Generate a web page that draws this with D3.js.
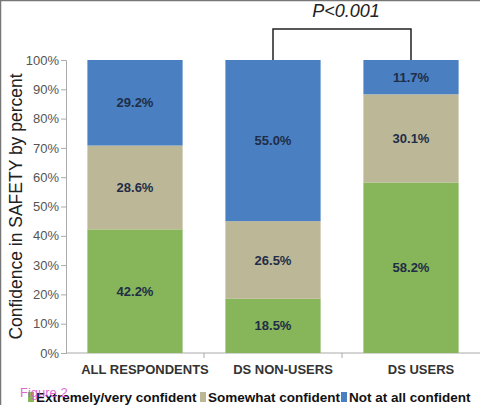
<!DOCTYPE html>
<html>
<head>
<meta charset="utf-8">
<script src="https://cdn.jsdelivr.net/npm/d3@7"></script>
<style>
  html, body { margin: 0; padding: 0; background: #fff; }
  svg { display: block; font-family: 'Liberation Sans', Arial, sans-serif; }
</style>
</head>
<body>
<div id="chart"></div>
<script>
const categories = ['ALL RESPONDENTS', 'DS NON-USERS', 'DS USERS'];
const seriesNames = ['Extremely/very confident', 'Somewhat confident', 'Not at all confident'];
const extremely = [42.2, 18.5, 58.2];
const somewhat = [28.6, 26.5, 30.1];
const notAtAll = [29.2, 55.0, 11.7];
const yTicks = [0, 10, 20, 30, 40, 50, 60, 70, 80, 90, 100];
const colors = ['#87b55a', '#bcb897', '#4a80c1'];

const width = 480, height = 405;
const margin = { top: 60, right: 0, bottom: 52, left: 66 };

const svg = d3.select('#chart').append('svg')
  .attr('width', width)
  .attr('height', height);

// frame lines at top/left like the scanned figure
svg.append('line').attr('x1', 0).attr('x2', width).attr('y1', 0.5).attr('y2', 0.5)
  .attr('stroke', '#777').attr('stroke-width', 1.5);
svg.append('line').attr('x1', 0.5).attr('x2', 0.5).attr('y1', 0).attr('y2', height)
  .attr('stroke', '#777').attr('stroke-width', 1.5);

const x = d3.scaleBand()
  .domain(categories)
  .range([margin.left, width - margin.right])
  .paddingInner(0.31)
  .paddingOuter(0.155);

const y = d3.scaleLinear()
  .domain([0, 100])
  .range([height - margin.bottom, margin.top]);

const rows = categories.map((c, i) => ({
  cat: c,
  s0: extremely[i], s1: somewhat[i], s2: notAtAll[i]
}));
const stack = d3.stack().keys(['s0', 's1', 's2'])(rows);

// y axis
const yAxis = svg.append('g')
  .attr('transform', `translate(${margin.left},0)`)
  .call(d3.axisLeft(y).tickValues(yTicks).tickSize(5).tickFormat(d => d + '%'));
yAxis.selectAll('path, line').attr('stroke', '#aaa');
yAxis.selectAll('text').attr('fill', '#555').attr('font-size', 13).attr('dx', 1);

// x axis with ticks between categories
const step = x.step();
const xAxis = svg.append('g')
  .attr('transform', `translate(0,${y(0)})`);
xAxis.append('line')
  .attr('x1', margin.left).attr('x2', width)
  .attr('stroke', '#aaa');
xAxis.selectAll('line.tick')
  .data(categories.slice(1))
  .join('line')
  .attr('class', 'tick')
  .attr('x1', d => x(d) - x.paddingInner() * step / 2)
  .attr('x2', d => x(d) - x.paddingInner() * step / 2)
  .attr('y1', 0).attr('y2', 5)
  .attr('stroke', '#aaa');
xAxis.selectAll('text')
  .data(categories)
  .join('text')
  .attr('x', d => x(d) + x.bandwidth() / 2 + 10)
  .attr('y', 21)
  .attr('text-anchor', 'middle')
  .attr('font-size', 13)
  .attr('font-weight', 'bold')
  .attr('fill', '#333')
  .text(d => d);

// bars
const layers = svg.append('g').selectAll('g')
  .data(stack)
  .join('g')
  .attr('fill', (d, i) => colors[i]);

layers.selectAll('rect')
  .data(d => d)
  .join('rect')
  .attr('x', d => x(d.data.cat))
  .attr('width', x.bandwidth())
  .attr('y', d => y(d[1]))
  .attr('height', d => y(d[0]) - y(d[1]));

layers.selectAll('text')
  .data(d => d)
  .join('text')
  .attr('x', d => x(d.data.cat) + x.bandwidth() / 2)
  .attr('y', d => y((d[0] + d[1]) / 2))
  .attr('dy', '0.35em')
  .attr('text-anchor', 'middle')
  .attr('font-size', 13)
  .attr('font-weight', 'bold')
  .attr('fill', '#1f2d48')
  .text(d => (d[1] - d[0]).toFixed(1) + '%');

// y title
svg.append('text')
  .attr('transform', `translate(22,${(y(0) + y(100)) / 2}) rotate(-90)`)
  .attr('text-anchor', 'middle')
  .attr('font-size', 17.5)
  .attr('fill', '#222')
  .text('Confidence in SAFETY by percent');

// significance bracket between non-users and users
const bx1 = x(categories[1]) + x.bandwidth() / 2;
const bx2 = x(categories[2]) + x.bandwidth() / 2;
const by = 29;
svg.append('path')
  .attr('d', `M${bx1},${y(100)}V${by}H${bx2}V${y(100)}`)
  .attr('fill', 'none')
  .attr('stroke', '#222')
  .attr('stroke-width', 1.5);
svg.append('text')
  .attr('x', (bx1 + bx2) / 2 + 4)
  .attr('y', 17)
  .attr('text-anchor', 'middle')
  .attr('font-size', 18)
  .attr('font-style', 'italic')
  .attr('fill', '#222')
  .text('P<0.001');

// legend
const legendX = [28, 200, 341];
const legend = svg.append('g').selectAll('g')
  .data(seriesNames)
  .join('g')
  .attr('transform', (d, i) => `translate(${legendX[i]},392)`);
legend.append('rect')
  .attr('width', 6).attr('height', 10)
  .attr('fill', (d, i) => colors[i]);
legend.append('text')
  .attr('x', 8)
  .attr('y', 10)
  .attr('font-size', 13.5)
  .attr('font-weight', 'bold')
  .attr('fill', '#111')
  .text(d => d);

svg.append('text')
  .attr('x', 20)
  .attr('y', 397)
  .attr('font-size', 13)
  .attr('fill', '#d94fd0')
  .attr('opacity', 0.85)
  .text('Figure 2');
</script>
</body>
</html>
